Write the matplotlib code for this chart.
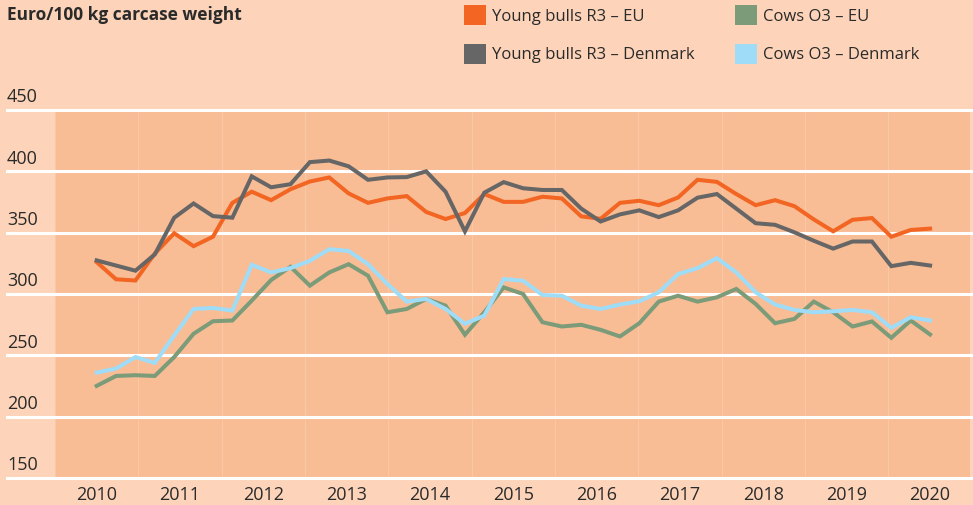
import numpy as np
import matplotlib.pyplot as plt
from matplotlib.patches import Patch
import matplotlib.transforms as mtransforms

plt.rcParams['font.family'] = ['Open Sans', 'DejaVu Sans']

# Quarterly prices, Euro/100 kg carcase weight (2010 - 2020)
bulls_eu = [326, 312, 311, 333, 349.5, 339, 346.7, 374.3, 383.4, 376.5, 385.4, 391.7,
            395, 382, 374.3, 377.9, 379.8, 366.9, 361.1, 366, 381.5, 375.1, 375.1, 379.3,
            377.9, 363.3, 361.3, 374.3, 376, 372.4, 378.7, 393.1, 391.4, 381.5, 372.4, 376.5,
            371.6, 360.8, 351.1, 360.5, 361.9, 346.7, 352.2, 353.3]
bulls_dk = [327.4, 323.2, 319, 332.3, 362.2, 373.8, 363.5, 362.2, 395.9, 387, 389.5, 407.5,
            408.8, 404.1, 393.1, 395, 395.3, 400, 383.4, 351.1, 382.6, 391.2, 386.2, 384.8,
            384.8, 369.6, 359.1, 364.9, 368.2, 362.7, 368.2, 378.5, 381.5, 369.6, 357.7, 356.4,
            350.3, 343.4, 337, 342.8, 342.8, 322.7, 325.4, 323.2]
cows_eu = [225.1, 233.2, 233.8, 233.2, 248.6, 267.6, 277.8, 278.4, 294.6, 311.4, 322.2, 306.8,
           317.6, 324.3, 314.9, 285.1, 287.8, 296, 290.5, 266.8, 285.1, 305.4, 300, 277,
           273.5, 274.9, 270.8, 265.4, 276.2, 293.8, 298.6, 293.8, 297.3, 304.1, 291.9, 276.2,
           279.7, 293.8, 285.1, 273.5, 277.6, 264.3, 278.4, 267]
cows_dk = [235.9, 239.2, 248.6, 243.8, 266.2, 287.8, 288.6, 286.5, 323.8, 317.6, 321.1, 327,
           336.5, 335.1, 324.3, 308.1, 293.8, 296, 287.8, 275.7, 282.4, 312.2, 310.8, 299.2,
           298.6, 290.5, 287.8, 291.4, 294.1, 301.4, 316.2, 321.1, 329.2, 317.6, 301.4, 291.4,
           287, 285.1, 285.9, 287, 285.1, 272.4, 281.1, 278.4]
years = list(range(2010, 2021))
yticks = [150, 200, 250, 300, 350, 400, 450]

labels = ['Young bulls R3 – EU', 'Young bulls R3 – Denmark', 'Cows O3 – EU', 'Cows O3 – Denmark']
colors = ['#f26522', '#666666', '#7b9b79', '#9fdcf7']

light_bg = '#fdd4b9'
dark_bg = '#f9bd96'

t = np.linspace(2010, 2020, len(bulls_eu))

fig = plt.figure(figsize=(9.73, 5.05), dpi=100, facecolor=light_bg)
ax = fig.add_axes([7 / 973, 27 / 505, 966 / 973, 368 / 505])
ax.set_facecolor(light_bg)
ax.set_xlim(2008.924, 2020.515)
ax.set_ylim(150, 450)

# darker plot area and year separators
ax.axvspan(2009.5, 2020.48, color=dark_bg, zorder=0, lw=0)
for yr in years:
    ax.axvline(yr - 0.5, color='#fbc8a6', lw=0.8, zorder=0.5)

# white grid lines with labels above them
trans = mtransforms.blended_transform_factory(ax.transAxes, ax.transData)
for v in yticks:
    ax.axhline(v, color='white', lw=2.2, zorder=1, clip_on=False)
    ax.text(0, v + 3, str(v), transform=trans, ha='left', va='bottom',
            fontsize=13, color='#2a2a2a')

for data, lab, c in zip([bulls_eu, bulls_dk, cows_eu, cows_dk], labels, colors):
    ax.plot(t, data, color=c, lw=2.9, zorder=3, solid_joinstyle='miter')

ax.set_xticks(years)
ax.set_xticklabels([str(y) for y in years], fontsize=13, color='#2a2a2a')
ax.tick_params(axis='x', length=0, pad=6)
ax.set_yticks([])
for s in ax.spines.values():
    s.set_visible(False)

fig.text(7 / 973, 1 - 6 / 505, 'Euro/100 kg carcase weight', ha='left', va='top',
         fontsize=12.5, fontweight='bold', color='#2a2a2a')

handles = [Patch(facecolor=c, edgecolor='none') for c in colors]
fig.legend(handles, labels, ncol=2, loc='upper left',
           bbox_to_anchor=(464 / 973, 1 - 5 / 505), frameon=False, fontsize=12,
           handlelength=1.32, handleheight=1.5, handletextpad=0.36,
           columnspacing=2.4, labelspacing=1.1, borderpad=0, borderaxespad=0,
           labelcolor='#2a2a2a')

fig.savefig('out.png', dpi=100, facecolor=light_bg)
